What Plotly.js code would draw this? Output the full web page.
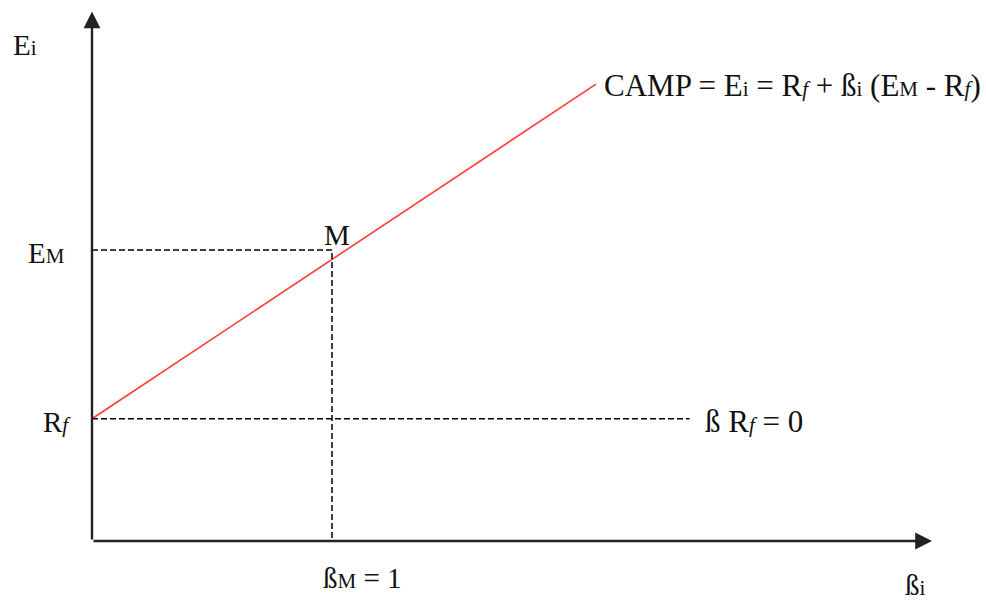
<!DOCTYPE html>
<html>
<head>
<meta charset="utf-8">
<script src="https://cdn.plot.ly/plotly-3.0.1.min.js"></script>
<style>
  html, body { margin: 0; padding: 0; background: #fff; }
  #chart { width: 986px; height: 603px; }
</style>
</head>
<body>
<div id="chart"></div>
<script>
// Security market line (CAPM): expected return E_i against beta_i
const riskFree = 4.2;        // R_f
const marketReturn = 10;     // E_M
const marketBeta = 1;        // beta_M
const lineBeta = [0, 2.1];   // drawn extent of the red line
const lineReturn = [4.2, 15.7];
const rfLineEnd = 2.49;      // where the dashed R_f line stops
const axisEnd = { beta: 3.5, ret: 18.2 };

const FONT = 'Liberation Serif, Times New Roman, serif';
const INK = '#111';
const small = s => '<span style="font-size:21px">' + s + '</span>';

const traces = [
  {
    x: lineBeta, y: lineReturn, mode: 'lines', type: 'scatter',
    line: { color: '#ff3b3b', width: 1.6 }, hoverinfo: 'skip'
  },
  // dashed guides to M
  {
    x: [0, marketBeta, marketBeta], y: [marketReturn, marketReturn, 0],
    mode: 'lines', type: 'scatter',
    line: { color: '#000', width: 1.5, dash: '6px,3px' }, hoverinfo: 'skip'
  },
  // dashed R_f line
  {
    x: [0, rfLineEnd], y: [riskFree, riskFree],
    mode: 'lines', type: 'scatter',
    line: { color: '#000', width: 1.5, dash: '6px,3px' }, hoverinfo: 'skip'
  }
];

const textAnn = (x, y, text, xanchor, xref, yref, yanchor, size) => ({
  x, y, xref: xref || 'x', yref: yref || 'y', text, showarrow: false,
  xanchor: xanchor || 'left', yanchor: yanchor || 'middle',
  font: { family: FONT, size: size || 29, color: INK }
});

const annotations = [
  // axes with arrowheads
  {
    x: axisEnd.beta, y: 0, ax: 0, ay: 0, xref: 'x', yref: 'y', axref: 'x', ayref: 'y',
    showarrow: true, arrowhead: 2, arrowsize: 1.4, arrowwidth: 2.4, arrowcolor: '#222', text: ''
  },
  {
    x: 0, y: axisEnd.ret, ax: 0, ay: 0, xref: 'x', yref: 'y', axref: 'x', ayref: 'y',
    showarrow: true, arrowhead: 2, arrowsize: 1.4, arrowwidth: 2.4, arrowcolor: '#222', text: ''
  },
  textAnn(11 / 986, 1 - 45 / 603, 'E' + small('i'), 'left', 'paper', 'paper'),
  textAnn(26 / 986, marketReturn - 0.12, 'E' + small('M'), 'left', 'paper', 'y'),
  textAnn(41 / 986, riskFree - 0.1, 'R' + small('<i>f</i>'), 'left', 'paper', 'y'),
  textAnn(marketBeta - 0.04, marketReturn + 0.5, 'M', 'left'),
  textAnn(602 / 986, 1 - 85 / 603,
    'CAMP = E' + small('i') + ' = R' + small('<i>f</i>') + ' + ß' + small('i') +
    ' (E' + small('M') + ' - R' + small('<i>f</i>') + ')', 'left', 'paper', 'paper', 'middle', 31),
  textAnn(703 / 986, riskFree - 0.1, 'ß R' + small('<i>f</i>') + ' = 0', 'left', 'paper', 'y', 'middle', 31),
  textAnn(321 / 986, 1 - 578 / 603, 'ß' + small('M') + ' = 1', 'left', 'paper', 'paper'),
  textAnn(903 / 986, 0, 'ß' + small('i'), 'left', 'paper', 'paper', 'bottom')
];

// one beta unit = 240 px, one return unit = 29.1 px; origin at (92, 541)
const layout = {
  width: 986, height: 603,
  margin: { l: 0, r: 0, t: 0, b: 0 },
  paper_bgcolor: '#fff', plot_bgcolor: '#fff',
  showlegend: false,
  xaxis: { range: [-92 / 240, (986 - 92) / 240], visible: false, fixedrange: true },
  yaxis: { range: [-(603 - 541) / 29.1, 541 / 29.1], visible: false, fixedrange: true },
  annotations
};

Plotly.newPlot('chart', traces, layout, { staticPlot: true });
</script>
</body>
</html>
